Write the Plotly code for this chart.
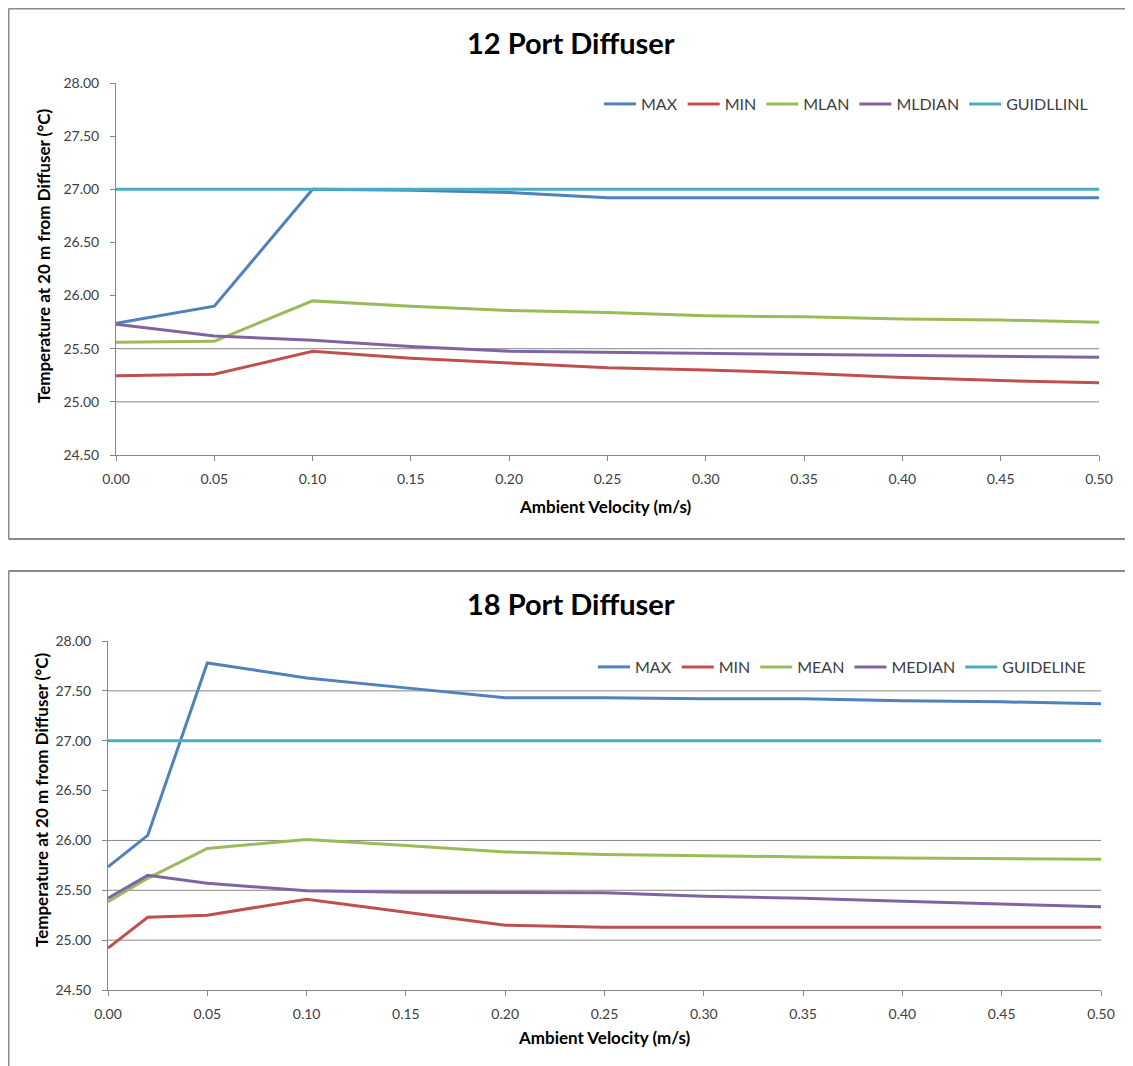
import plotly.graph_objects as go

# ---------------- data ----------------
series_names_12 = ["MAX", "MIN", "MLAN", "MLDIAN", "GUIDLLINL"]
series_names_18 = ["MAX", "MIN", "MEAN", "MEDIAN", "GUIDELINE"]

x12 = [0.00, 0.05, 0.10, 0.15, 0.20, 0.25, 0.30, 0.35, 0.40, 0.45, 0.50]
max12 = [25.74, 25.90, 27.00, 26.99, 26.97, 26.92, 26.92, 26.92, 26.92, 26.92, 26.92]
min12 = [25.245, 25.26, 25.475, 25.41, 25.365, 25.32, 25.30, 25.27, 25.23, 25.20, 25.18]
mean12 = [25.56, 25.57, 25.95, 25.90, 25.86, 25.84, 25.81, 25.80, 25.78, 25.77, 25.75]
median12 = [25.73, 25.62, 25.58, 25.52, 25.475, 25.465, 25.46, 25.45, 25.44, 25.43, 25.42]
guide12 = [27.00] * len(x12)

x18 = [0.00, 0.02, 0.05, 0.10, 0.15, 0.20, 0.25, 0.30, 0.35, 0.40, 0.45, 0.50]
max18 = [25.735, 26.05, 27.78, 27.63, 27.53, 27.43, 27.43, 27.42, 27.42, 27.40, 27.39, 27.37]
min18 = [24.92, 25.23, 25.25, 25.41, 25.28, 25.15, 25.13, 25.13, 25.13, 25.13, 25.13, 25.13]
mean18 = [25.385, 25.62, 25.92, 26.01, 25.95, 25.885, 25.86, 25.845, 25.835, 25.825, 25.82, 25.81]
median18 = [25.42, 25.65, 25.57, 25.495, 25.48, 25.48, 25.475, 25.44, 25.42, 25.39, 25.36, 25.335]
guide18 = [27.00] * len(x18)

# gridlines visible in each panel of the reference
grid12 = [25.00, 25.50]
grid18 = [25.00, 25.50, 26.00, 27.50]

titles = ["12 Port Diffuser", "18 Port Diffuser"]
x_title = "Ambient Velocity (m/s)"
y_title = "Temperature at 20 m from Diffuser (°C)"

colors = ["#4F81BD", "#C0504D", "#9BBB59", "#8064A2", "#4BACC6"]

# ---------------- figure ----------------
W, H = 1133, 1066
OFF = 8  # page body margin
FONT = "Lato, 'Open Sans', sans-serif"
AX = "#868686"
TXT = "#404040"

def px(page_x):
    return (page_x - OFF) / W

def py(page_y):
    return 1 - (page_y - OFF) / H

fig = go.Figure()

panel12 = [max12, min12, mean12, median12, guide12]
panel18 = [max18, min18, mean18, median18, guide18]

for name, ys, c in zip(series_names_12, panel12, colors):
    fig.add_trace(go.Scatter(x=x12, y=ys, name=name, mode="lines",
                             line=dict(color=c, width=3),
                             xaxis="x", yaxis="y", legend="legend"))
for name, ys, c in zip(series_names_18, panel18, colors):
    fig.add_trace(go.Scatter(x=x18, y=ys, name=name, mode="lines",
                             line=dict(color=c, width=3),
                             xaxis="x2", yaxis="y2", legend="legend2"))

xcommon = dict(range=[0, 0.5], tickmode="linear", tick0=0, dtick=0.05,
               tickformat=".2f", showline=True, linecolor=AX, linewidth=1,
               ticks="outside", ticklen=5, tickcolor=AX, showgrid=False,
               zeroline=False, automargin=False,
               tickfont=dict(family=FONT, size=14, color=TXT),
               ticklabelstandoff=6)
ycommon = dict(range=[24.5, 28], tickmode="linear", tick0=24.5, dtick=0.5,
               tickformat=".2f", showline=True, linecolor=AX, linewidth=1,
               ticks="outside", ticklen=5, tickcolor=AX, showgrid=False,
               zeroline=False, automargin=False,
               tickfont=dict(family=FONT, size=14, color=TXT),
               ticklabelstandoff=8)

fig.update_layout(
    template="none",
    width=W, height=H, autosize=False,
    margin=dict(l=0, r=0, t=0, b=0, pad=0, autoexpand=False),
    paper_bgcolor="white", plot_bgcolor="white",
    font=dict(family=FONT, color=TXT),
    xaxis=dict(domain=[px(116), px(1099)], anchor="y", **xcommon),
    yaxis=dict(domain=[py(455), py(83)], anchor="x", **ycommon),
    xaxis2=dict(domain=[px(108), px(1101)], anchor="y2", **xcommon),
    yaxis2=dict(domain=[py(990), py(641)], anchor="x2", **ycommon),
    legend=dict(orientation="h", x=px(1093), xanchor="right",
                y=py(104), yanchor="middle", bgcolor="rgba(0,0,0,0)",
                font=dict(family=FONT, size=16, color=TXT),
                itemwidth=32, tracegroupgap=0),
    legend2=dict(orientation="h", x=px(1091), xanchor="right",
                 y=py(667), yanchor="middle", bgcolor="rgba(0,0,0,0)",
                 font=dict(family=FONT, size=16, color=TXT),
                 itemwidth=32, tracegroupgap=0),
    showlegend=True,
)

# gridlines (only those visible in the reference), drawn beneath the data
for ax, vals in [("", grid12), ("2", grid18)]:
    for v in vals:
        fig.add_shape(type="line", xref=f"x{ax} domain", yref=f"y{ax}",
                      x0=0, x1=1, y0=v, y1=v, layer="below",
                      line=dict(color=AX, width=1))

# titles
for t, (cx, cy) in zip(titles, [(571, 42), (571, 603)]):
    fig.add_annotation(text=f"<b>{t}</b>", x=px(cx), y=py(cy), xref="paper",
                       yref="paper", showarrow=False, xanchor="center",
                       yanchor="middle", font=dict(family=FONT, size=29, color="black"))
for (cx, cy) in [(606, 506), (604, 1037)]:
    fig.add_annotation(text=f"<b>{x_title}</b>", x=px(cx), y=py(cy), xref="paper",
                       yref="paper", showarrow=False, xanchor="center",
                       yanchor="middle", font=dict(family=FONT, size=17, color="black"))
for (cx, cy) in [(43, 256), (41, 800)]:
    fig.add_annotation(text=f"<b>{y_title}</b>", x=px(cx), y=py(cy), xref="paper",
                       yref="paper", showarrow=False, xanchor="center",
                       yanchor="middle", textangle=-90,
                       font=dict(family=FONT, size=17, color="black"))

# panel borders (right edges lie outside the view in the reference)
BORDER = dict(color="#8A8A8A", width=2)
for (x0, y0, x1, y1) in [
    (px(8.5), py(8.5), px(8.5), py(539)),
    (px(8.5), py(8.5), 1.0, py(8.5)),
    (px(8.5), py(539), 1.0, py(539)),
    (px(8.5), py(571), px(8.5), 0.0),
    (px(8.5), py(571), 1.0, py(571)),
]:
    fig.add_shape(type="line", xref="paper", yref="paper",
                  x0=x0, y0=y0, x1=x1, y1=y1, line=BORDER)

fig.write_html("out.html")
